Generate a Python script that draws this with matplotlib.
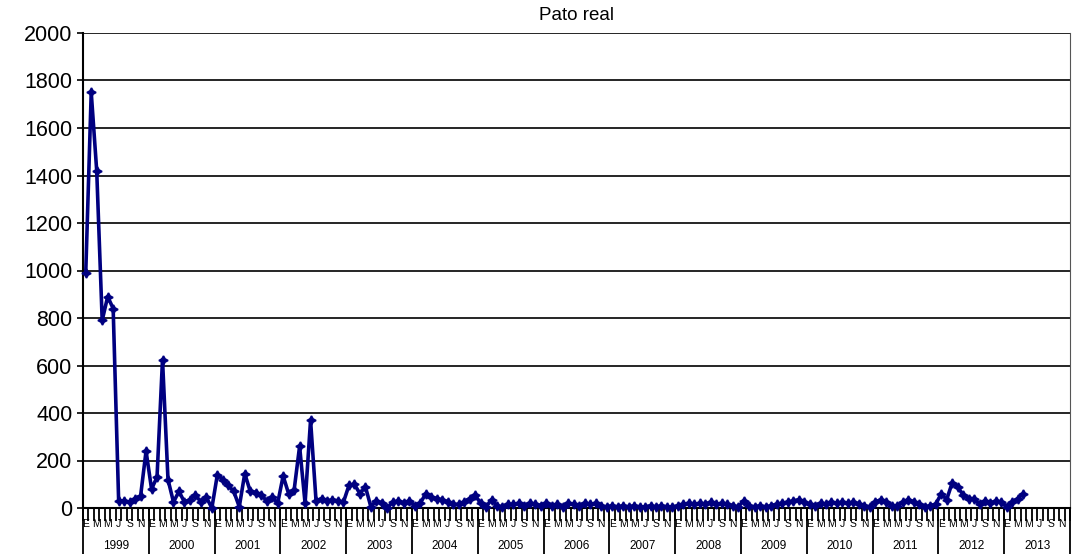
import matplotlib
matplotlib.use('Agg')
from matplotlib import pyplot as plt
import matplotlib.transforms as mtransforms

plt.rcParams['font.family'] = ['Liberation Sans', 'DejaVu Sans']

years = list(range(1999, 2014))
months = ['E', 'F', 'M', 'A', 'M', 'J', 'J', 'A', 'S', 'O', 'N', 'D']

v1999 = [990, 1750, 1420, 790, 890, 840, 30, 30, 25, 40, 50, 240]
v2000 = [80, 130, 625, 120, 25, 70, 25, 35, 55, 25, 45, 0]
v2001 = [140, 120, 95, 70, 5, 145, 70, 65, 55, 30, 45, 20]
v2002 = [135, 60, 75, 260, 20, 370, 30, 40, 30, 35, 30, 25]
v2003 = [95, 100, 60, 90, 5, 30, 20, 0, 25, 30, 20, 30]
v2004 = [10, 20, 60, 45, 40, 35, 25, 15, 15, 25, 40, 55]
v2005 = [20, 5, 35, 10, 5, 15, 15, 20, 10, 20, 15, 10]
v2006 = [20, 10, 15, 5, 20, 15, 10, 20, 15, 20, 10, 5]
v2007 = [10, 5, 10, 5, 10, 5, 5, 10, 5, 10, 5, 5]
v2008 = [10, 15, 20, 15, 20, 15, 25, 15, 20, 15, 10, 5]
v2009 = [30, 10, 5, 10, 5, 10, 15, 20, 25, 30, 35, 25]
v2010 = [15, 10, 20, 15, 25, 20, 25, 20, 25, 15, 10, 5]
v2011 = [25, 35, 25, 10, 10, 25, 35, 25, 15, 5, 10, 15]
v2012 = [60, 35, 105, 90, 55, 40, 40, 15, 30, 20, 30, 25]
v2013 = [5, 25, 40, 60]

values = (v1999 + v2000 + v2001 + v2002 + v2003 + v2004 + v2005 + v2006 +
          v2007 + v2008 + v2009 + v2010 + v2011 + v2012 + v2013)
n_months = len(years) * 12
x = [i + 0.5 for i in range(len(values))]

fig = plt.figure(figsize=(10.73, 5.54), dpi=100)
ax = fig.add_axes([83 / 1073, 1 - 508 / 554, (1070 - 83) / 1073, 475 / 554])

ax.set_ylim(0, 2000)
ax.set_yticks(range(0, 2001, 200))
ax.yaxis.grid(True, color='black', linewidth=1.2)
ax.set_axisbelow(True)
ax.tick_params(axis='y', labelsize=15.5, length=4.5, width=1.2, pad=3)

ax.plot(x, values, color='#000080', linewidth=2.6, marker=(4, 1, 0),
        markersize=6.5, markeredgewidth=1.2, clip_on=False, zorder=3)

ax.set_xlim(0, n_months)
ax.set_xticks(range(0, n_months + 1))
ax.set_xticklabels([])
ax.tick_params(axis='x', length=9, width=1.3, direction='out')

for s in ['left', 'bottom']:
    ax.spines[s].set_linewidth(1.5)
ax.spines['top'].set_visible(False)
ax.spines['right'].set_color('#555555')

# month letters (every second one, as the axis skips them) and year labels
trans = mtransforms.blended_transform_factory(ax.transData, ax.transAxes)
for k, yr in enumerate(years):
    for m in range(0, 12, 2):
        ax.text(k * 12 + m + 0.5, -0.034, months[m], transform=trans,
                fontsize=7.5, ha='center', va='center')
    ax.text(k * 12 + 6, -0.08, str(yr), transform=trans,
            fontsize=8.5, ha='center', va='center')
for k in range(len(years) + 1):
    ax.plot([k * 12, k * 12], [0, -0.1], color='black', linewidth=1.3,
            transform=trans, clip_on=False)

ax.set_title('Pato real', fontsize=13.5, pad=9)

fig.savefig('out.png', dpi=100)
